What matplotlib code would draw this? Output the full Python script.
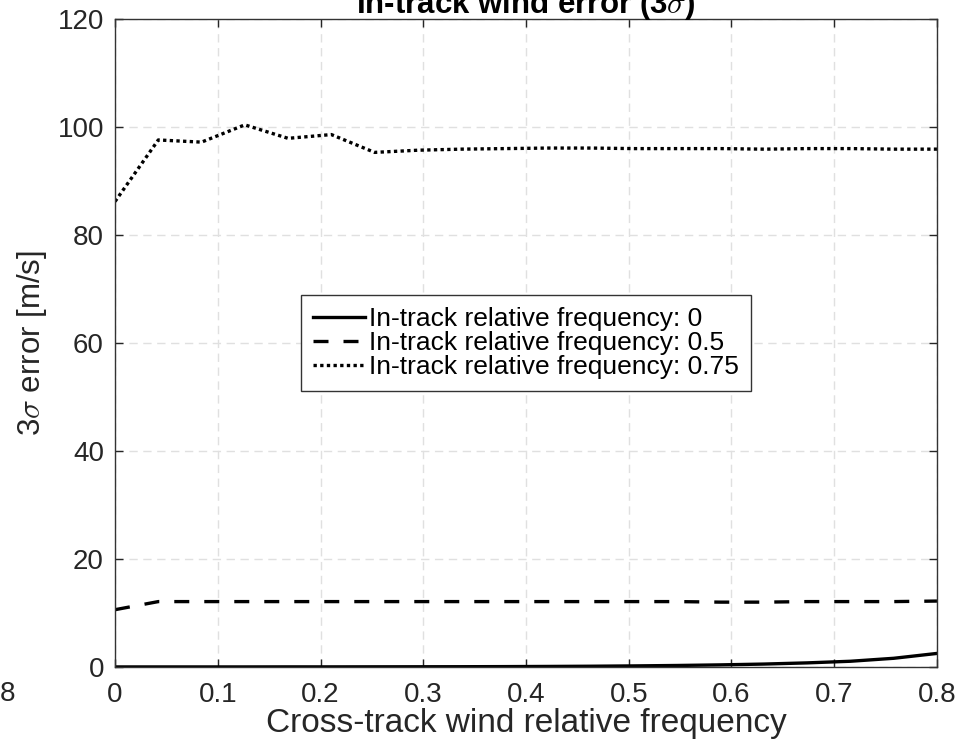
import numpy as np
import matplotlib
matplotlib.use('Agg')
import matplotlib.pyplot as plt

plt.rcParams['font.family'] = ['Liberation Sans', 'DejaVu Sans']
plt.rcParams['mathtext.fontset'] = 'cm'

# Cross-track wind relative frequency
cross_freq = [0.0, 0.0421, 0.0842, 0.1263, 0.1684, 0.2105, 0.2526, 0.2947, 0.3368, 0.3789,
              0.4211, 0.4632, 0.5053, 0.5474, 0.5895, 0.6316, 0.6737, 0.7158, 0.7579, 0.8]

# 3-sigma error [m/s] per in-track relative frequency
err_0 = [0.0, 0.0, 0.0, 0.0, 0.01, 0.01, 0.02, 0.03, 0.04, 0.06,
         0.09, 0.13, 0.19, 0.27, 0.38, 0.53, 0.75, 1.05, 1.6, 2.5]
err_05 = [10.6, 12.1, 12.1, 12.1, 12.1, 12.1, 12.1, 12.1, 12.1, 12.1,
          12.1, 12.1, 12.1, 12.1, 12.0, 12.0, 12.1, 12.1, 12.1, 12.2]
err_075 = [86.2, 97.6, 97.2, 100.4, 97.9, 98.6, 95.3, 95.7, 95.9, 96.0,
           96.1, 96.1, 96.0, 96.0, 96.0, 95.9, 96.0, 96.0, 95.9, 95.9]

labels = ['In-track relative frequency: 0',
          'In-track relative frequency: 0.5',
          'In-track relative frequency: 0.75']

fig = plt.figure(figsize=(9.61, 7.46), dpi=100)
ax = fig.add_axes([0.1197, 0.106, 0.8553, 0.8685])

ax.plot(cross_freq, err_0, color='black', lw=2.4, ls='-', label=labels[0])
ax.plot(cross_freq, err_05, color='black', lw=2.4, ls=(0, (4.5, 4.5)), label=labels[1])
ax.plot(cross_freq, err_075, color='black', lw=2.4, ls=(0, (1, 1.0)), label=labels[2])

ax.set_xlim(0, 0.8)
ax.set_ylim(0, 120)
ax.set_xticks(np.arange(0, 0.81, 0.1))
ax.set_xticklabels(['0', '0.1', '0.2', '0.3', '0.4', '0.5', '0.6', '0.7', '0.8'])
ax.set_yticks(np.arange(0, 121, 20))

ax.grid(True, color='#e0e0e0', ls=(0, (6, 4)), lw=1)
ax.tick_params(direction='in', top=True, right=True, labelsize=20,
               colors='#262626', length=6, width=1)
ax.tick_params(axis='x', pad=11)
ax.tick_params(axis='y', pad=8)
for s in ax.spines.values():
    s.set_color('#333333')
    s.set_linewidth(1)

ax.set_xlabel('Cross-track wind relative frequency', fontsize=24, color='#262626', labelpad=0)
ax.set_ylabel(r'3$\sigma$ error [m/s]', fontsize=22.5, color='#262626', labelpad=6)
ax.set_title(r'In-track wind error (3$\sigma$)', fontsize=22.5, fontweight='bold', pad=4)

leg = ax.legend(loc='center', fontsize=19, frameon=True, fancybox=False,
                edgecolor='#333333', framealpha=1, handlelength=2.0,
                handletextpad=0.15, labelspacing=0.0, borderpad=0.45,
                borderaxespad=0.3)
leg.get_frame().set_linewidth(1)

# stray tick label from a neighbouring panel
fig.text(0.0, 0.0697, '8', fontsize=20, color='#262626', ha='left', va='center')

fig.savefig('out.png', dpi=100)
